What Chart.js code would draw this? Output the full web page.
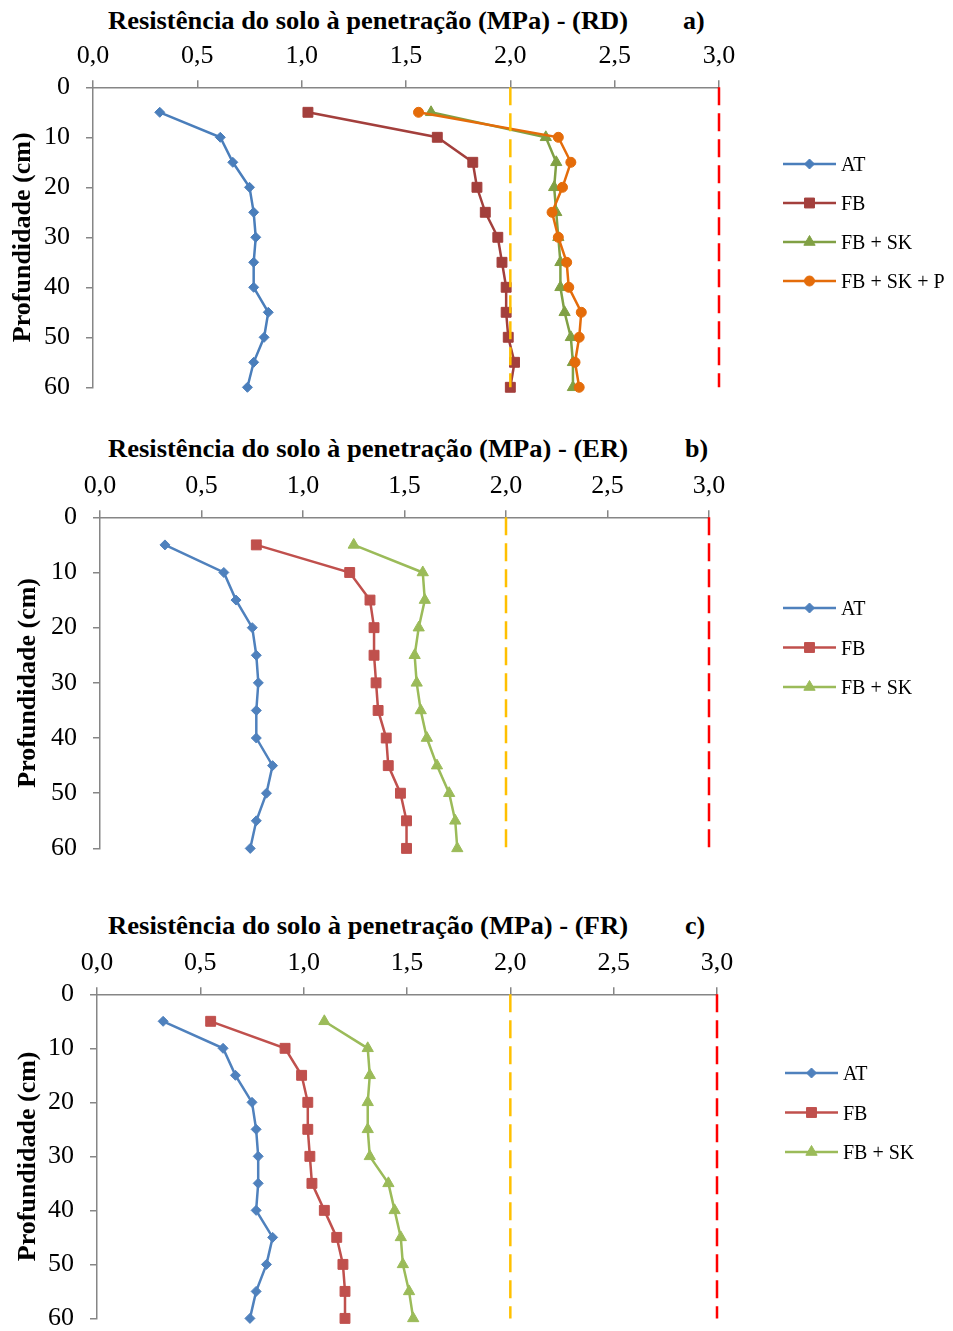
<!DOCTYPE html>
<html lang="pt">
<head>
<meta charset="utf-8">
<title>Resistência do solo à penetração</title>
<script src="https://cdn.jsdelivr.net/npm/chart.js@4.4.0/dist/chart.umd.min.js"></script>
<style>
  html, body { margin: 0; padding: 0; background: #ffffff; }
  body { position: relative; width: 953px; height: 1331px; overflow: hidden;
         font-family: "Liberation Serif", "Times New Roman", serif; color: #000; }
  canvas { position: absolute; left: 0; }
  .title { position: absolute; font-weight: bold; font-size: 26px; line-height: 26px;
           white-space: nowrap; transform-origin: 0 0; }
</style>
</head>
<body>

<div class="title t-main" style="left:108px; top:8px;">Resistência do solo à penetração (MPa) - (RD)</div>
<div class="title" style="left:683px; top:8px;">a)</div>
<canvas id="chartRD" width="953" height="430" style="top:0px;"></canvas>

<div class="title t-main" style="left:108px; top:436px;">Resistência do solo à penetração (MPa) - (ER)</div>
<div class="title" style="left:685px; top:436px;">b)</div>
<canvas id="chartER" width="953" height="470" style="top:410px;"></canvas>

<div class="title t-main" style="left:108px; top:913px;">Resistência do solo à penetração (MPa) - (FR)</div>
<div class="title" style="left:685px; top:913px;">c)</div>
<canvas id="chartFR" width="953" height="480" style="top:870px;"></canvas>

<script>
// ---- data -------------------------------------------------------------
const depthCm      = [5, 10, 15, 20, 25, 30, 35, 40, 45, 50, 55, 60];
const depthTicks   = [0, 10, 20, 30, 40, 50, 60];
const depthRange   = [0, 60];
const resistTicks  = [0, 0.5, 1, 1.5, 2, 2.5, 3];
const limitAlert    = 2.0;   // MPa
const limitCritical = 3.0;   // MPa

// (RD)
const rdAT    = [0.32, 0.61, 0.67, 0.75, 0.77, 0.78, 0.77, 0.77, 0.84, 0.82, 0.77, 0.74];
const rdFB    = [1.03, 1.65, 1.82, 1.84, 1.88, 1.94, 1.96, 1.98, 1.98, 1.99, 2.02, 2.00];
const rdFBSK  = [1.62, 2.17, 2.22, 2.21, 2.22, 2.23, 2.24, 2.24, 2.26, 2.29, 2.30, 2.30];
const rdFBSKP = [1.56, 2.23, 2.29, 2.25, 2.20, 2.23, 2.27, 2.28, 2.34, 2.33, 2.31, 2.33];

// (ER)
const erAT    = [0.32, 0.61, 0.67, 0.75, 0.77, 0.78, 0.77, 0.77, 0.85, 0.82, 0.77, 0.74];
const erFB    = [0.77, 1.23, 1.33, 1.35, 1.35, 1.36, 1.37, 1.41, 1.42, 1.48, 1.51, 1.51];
const erFBSK  = [1.25, 1.59, 1.60, 1.57, 1.55, 1.56, 1.58, 1.61, 1.66, 1.72, 1.75, 1.76];

// (FR)
const frAT    = [0.32, 0.61, 0.67, 0.75, 0.77, 0.78, 0.78, 0.77, 0.85, 0.82, 0.77, 0.74];
const frFB    = [0.55, 0.91, 0.99, 1.02, 1.02, 1.03, 1.04, 1.10, 1.16, 1.19, 1.20, 1.20];
const frFBSK  = [1.10, 1.31, 1.32, 1.31, 1.31, 1.32, 1.41, 1.44, 1.47, 1.48, 1.51, 1.53];

// ---- styling ----------------------------------------------------------
const FONT = '"Liberation Serif", "Times New Roman", serif';
const AXIS_GREY = '#868686';
const MARKERS = {
  'AT':          { pointStyle: 'rectRot',  pointRadius: 5 },
  'FB':          { pointStyle: 'rect',     pointRadius: 7 },
  'FB + SK':     { pointStyle: 'triangle', pointRadius: 6.5 },
  'FB + SK + P': { pointStyle: 'circle',   pointRadius: 5 }
};

const panels = [
  { canvas: 'chartRD', top: 0, area: { left: 93, right: 719, top: 87.3, bottom: 387.3 },
    yTitlePad: 7.5, legend: { x: 783, y: 164, step: 39 },
    series: [
      { label: 'AT',          values: rdAT,    color: '#4A7EBB' },
      { label: 'FB',          values: rdFB,    color: '#A33F3C' },
      { label: 'FB + SK',     values: rdFBSK,  color: '#80A044' },
      { label: 'FB + SK + P', values: rdFBSKP, color: '#E46C0A' }
    ] },
  { canvas: 'chartER', top: 410, area: { left: 100, right: 709, top: 517.3, bottom: 850.7 },
    yTitlePad: 13, legend: { x: 783, y: 608, step: 39.5 },
    series: [
      { label: 'AT',      values: erAT,   color: '#4F81BD' },
      { label: 'FB',      values: erFB,   color: '#C0504D' },
      { label: 'FB + SK', values: erFBSK, color: '#9BBB59' }
    ] },
  { canvas: 'chartFR', top: 870, area: { left: 97, right: 717, top: 994.3, bottom: 1318.7 },
    yTitlePad: 13, legend: { x: 785, y: 1073, step: 39.5 },
    series: [
      { label: 'AT',      values: frAT,   color: '#4F81BD' },
      { label: 'FB',      values: frFB,   color: '#C0504D' },
      { label: 'FB + SK', values: frFBSK, color: '#9BBB59' }
    ] }
];

function toPoints(values) {
  return values.map((v, i) => ({ x: v, y: depthCm[i] }));
}
function verticalAt(value) {
  return depthRange.map(d => ({ x: value, y: d }));
}

// Legend entries: a short line with the series marker centred on it
const lineMarkerLegend = {
  id: 'lineMarkerLegend',
  afterDraw(chart, args, opts) {
    const ctx = chart.ctx;
    ctx.save();
    chart.data.datasets.forEach(ds => {
      if (ds.legendRow === undefined) return;
      const x = opts.x;
      const y = opts.y + ds.legendRow * opts.step;
      ctx.setLineDash([]);
      ctx.lineCap = 'butt';
      ctx.strokeStyle = ds.borderColor;
      ctx.lineWidth = ds.borderWidth;
      ctx.beginPath();
      ctx.moveTo(x, y);
      ctx.lineTo(x + 53, y);
      ctx.stroke();
      ctx.fillStyle = ds.pointBackgroundColor;
      ctx.strokeStyle = ds.pointBorderColor;
      ctx.lineWidth = 1;
      Chart.helpers.drawPoint(ctx, { pointStyle: ds.pointStyle, radius: ds.pointRadius,
                                     rotation: 0, borderWidth: 1 }, x + 26.5, y);
      ctx.fillStyle = '#000';
      ctx.font = '20px ' + FONT;
      ctx.textAlign = 'left';
      ctx.textBaseline = 'alphabetic';
      ctx.fillText(ds.label, x + 58, y + 7);
    });
    ctx.restore();
  }
};

panels.forEach(p => {
  const el = document.getElementById(p.canvas);
  const a = {
    left: p.area.left, right: p.area.right,
    top: p.area.top - p.top, bottom: p.area.bottom - p.top
  };

  const datasets = p.series.map((s, i) => Object.assign({
    label: s.label,
    data: toPoints(s.values),
    showLine: true,
    borderColor: s.color,
    backgroundColor: s.color,
    pointBackgroundColor: s.color,
    pointBorderColor: s.color,
    pointBorderWidth: 1,
    borderWidth: 2.5,
    tension: 0,
    clip: false,
    order: p.series.length - i,
    legendRow: i
  }, MARKERS[s.label]));

  datasets.push({
    label: '2,0 MPa', data: verticalAt(limitAlert), showLine: true,
    borderColor: '#FFC000', borderWidth: 2.5, borderDash: [18, 8],
    pointRadius: 0, clip: false, order: 0
  });
  datasets.push({
    label: '3,0 MPa', data: verticalAt(limitCritical), showLine: true,
    borderColor: '#FF0000', borderWidth: 2.5, borderDash: [18, 8],
    pointRadius: 0, clip: false, order: 0
  });

  const gridOpts = { display: true, drawOnChartArea: false, drawTicks: true,
                     tickLength: 7, color: AXIS_GREY, lineWidth: 1.5 };
  const borderOpts = { display: true, color: AXIS_GREY, width: 1.5 };

  new Chart(el, {
    type: 'scatter',
    data: { datasets },
    plugins: [lineMarkerLegend],
    options: {
      responsive: false,
      animation: false,
      devicePixelRatio: 1,
      events: [],
      layout: { padding: { left: 0, top: 0, right: 953 - a.right, bottom: el.height - a.bottom } },
      plugins: {
        legend: { display: false },
        tooltip: { enabled: false },
        title: { display: false },
        lineMarkerLegend: { x: p.legend.x, y: p.legend.y - p.top, step: p.legend.step }
      },
      scales: {
        x: {
          type: 'linear', position: 'top', min: 0, max: 3,
          afterBuildTicks: s => { s.ticks = resistTicks.map(v => ({ value: v })); },
          afterFit: s => { s.height = a.top; },
          ticks: {
            autoSkip: false, maxRotation: 0, padding: 9, color: '#000',
            font: { family: FONT, size: 26 },
            callback: v => Number(v).toFixed(1).replace('.', ',')
          },
          grid: gridOpts,
          border: borderOpts
        },
        y: {
          type: 'linear', position: 'left', reverse: true, min: 0, max: 60,
          afterBuildTicks: s => { s.ticks = depthTicks.map(v => ({ value: v })); },
          afterFit: s => { s.width = a.left; },
          ticks: {
            autoSkip: false, padding: 16, color: '#000',
            font: { family: FONT, size: 26 },
            callback: v => String(v)
          },
          title: {
            display: true, text: 'Profundidade (cm)', color: '#000',
            font: { family: FONT, size: 26, weight: 'bold' },
            padding: { top: p.yTitlePad, bottom: 0 }
          },
          grid: gridOpts,
          border: borderOpts
        }
      }
    }
  });
});

// Panel headings span the width of the plot header
document.querySelectorAll('.t-main').forEach(t => {
  const w = t.getBoundingClientRect().width;
  if (w > 0) t.style.transform = 'scaleX(' + (520 / w).toFixed(4) + ')';
});
</script>
</body>
</html>
